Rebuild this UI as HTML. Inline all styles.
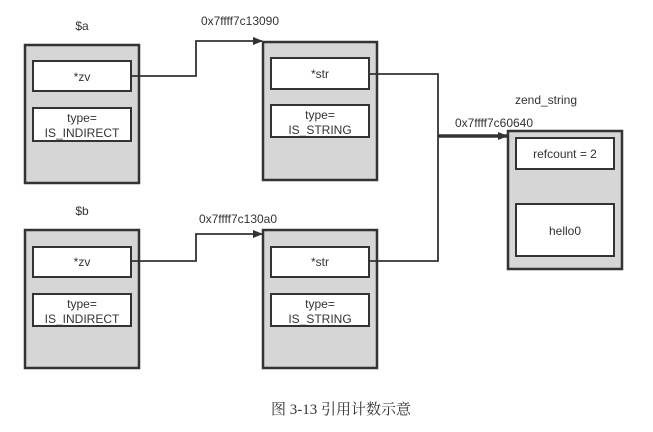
<!DOCTYPE html>
<html><head><meta charset="utf-8"><style>
body{margin:0;background:#fff;width:653px;height:427px;overflow:hidden}
svg text{font-family:"Liberation Sans",sans-serif;fill:#333}
</style></head><body>
<svg width="653" height="427" viewBox="0 0 653 427">
<defs><marker id="a" markerWidth="10" markerHeight="8" refX="9" refY="4" orient="auto" markerUnits="userSpaceOnUse"><path d="M0,0L10,4L0,8z" fill="#333"/></marker></defs>
<g stroke="#333" stroke-width="2.5" fill="#d6d6d6">
<rect x="25" y="45" width="114" height="138"/>
<rect x="263" y="42" width="114" height="138"/>
<rect x="25" y="230" width="114" height="138"/>
<rect x="263" y="230" width="114" height="138"/>
<rect x="508" y="131" width="114" height="138"/>
</g>
<g stroke="#333" stroke-width="2" fill="#fff">
<rect x="33" y="61" width="98" height="30"/>
<rect x="33" y="108" width="98" height="33"/>
<rect x="271" y="58" width="98" height="31"/>
<rect x="271" y="105" width="98" height="32"/>
<rect x="33" y="247" width="98" height="30"/>
<rect x="33" y="294" width="98" height="32"/>
<rect x="271" y="247" width="98" height="30"/>
<rect x="271" y="294" width="98" height="32"/>
<rect x="516" y="138" width="98" height="31"/>
<rect x="516" y="204" width="98" height="52"/>
</g>
<g stroke="#333" stroke-width="1.8" fill="none">
<path d="M131 76H196V41H262" marker-end="url(#a)"/>
<path d="M131 261H196V234H262" marker-end="url(#a)"/>
<path d="M369 74H438V261H369"/>
</g>
<path d="M438 136H507" stroke="#333" stroke-width="3.5" fill="none" marker-end="url(#a)"/>
<g font-size="12" text-anchor="middle">
<text x="82" y="30">$a</text>
<text x="82" y="215">$b</text>
<text x="240" y="25">0x7ffff7c13090</text>
<text x="238" y="223">0x7ffff7c130a0</text>
<text x="546" y="104">zend_string</text>
<text x="494" y="127">0x7ffff7c60640</text>
<text x="82" y="81">*zv</text>
<text x="82" y="266">*zv</text>
<text x="320" y="78">*str</text>
<text x="320" y="266">*str</text>
<text x="82" y="122">type=</text><text x="82" y="137">IS_INDIRECT</text>
<text x="82" y="308">type=</text><text x="82" y="323">IS_INDIRECT</text>
<text x="320" y="119">type=</text><text x="320" y="134">IS_STRING</text>
<text x="320" y="308">type=</text><text x="320" y="323">IS_STRING</text>
<text x="565" y="158">refcount = 2</text>
<text x="565" y="235">hello0</text>
</g>
<text x="341" y="414" font-size="15" text-anchor="middle" style='font-family:"Liberation Serif","Noto Serif CJK SC",serif' fill="#222">图 3-13  引用计数示意</text>
</svg>
</body></html>
